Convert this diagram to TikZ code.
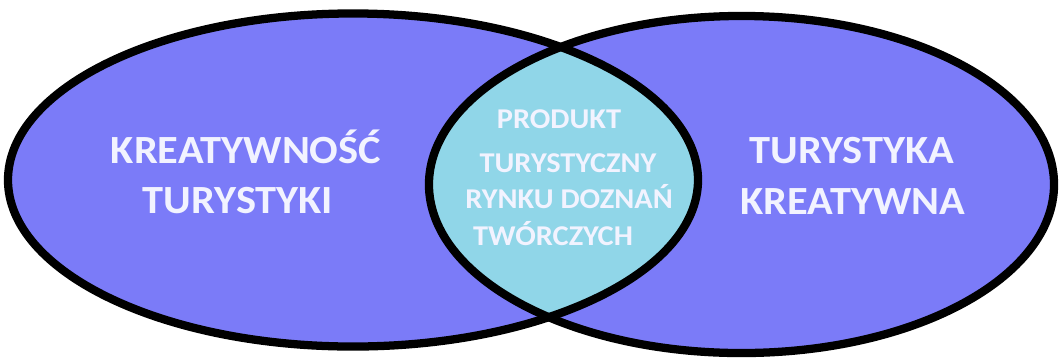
\documentclass[tikz,border=0pt]{standalone}
\usepackage{fontspec}
\newfontfamily\venfont{Carlito}[FakeStretch=1.06]
\definecolor{setblue}{RGB}{123,123,248}
\definecolor{setcyan}{RGB}{144,214,232}
\definecolor{txtcol}{RGB}{242,243,255}
\begin{document}
\begin{tikzpicture}[x=0.75pt,y=-0.75pt,
  big/.style={font=\venfont\bfseries\fontsize{30}{36}\selectfont, text=txtcol, anchor=base, inner sep=0pt},
  small/.style={font=\venfont\bfseries\fontsize{21.5}{26}\selectfont, text=txtcol, anchor=base, inner sep=0pt},
  lshape/.style={x radius=258.75pt, y radius=124.9pt},
  rshape/.style={x radius=234.4pt, y radius=126.4pt},
  outline/.style={draw=black, line width=6.2pt}]
\useasboundingbox (0,0) rectangle (1062,358);
\fill[white] (0,0) rectangle (1062,358);
\coordinate (L) at (353,180);
\coordinate (R) at (741.5,184.5);
\fill[setblue] (L) ellipse [lshape];
\fill[setblue] (R) ellipse [rshape];
\begin{scope}
  \clip (L) ellipse [lshape];
  \fill[setcyan] (R) ellipse [rshape];
\end{scope}
\draw[outline] (L) ellipse [lshape];
\draw[outline] (R) ellipse [rshape];
\node[big] (l1) at (246,163) {KREATYWNOŚĆ};
\node[big] (l2) at (238,213) {TURYSTYKI};
\node[big] (r1) at (852,163) {TURYSTYKA};
\node[big] (r2) at (853,214) {KREATYWNA};
\node[small] (m1) at (559,128) {PRODUKT};
\node[small] (m2) at (568,172) {TURYSTYCZNY};
\node[small] (m3) at (569,208) {RYNKU DOZNAŃ};
\node[small] (m4) at (553,245) {TWÓRCZYCH};
\end{tikzpicture}
\end{document}
